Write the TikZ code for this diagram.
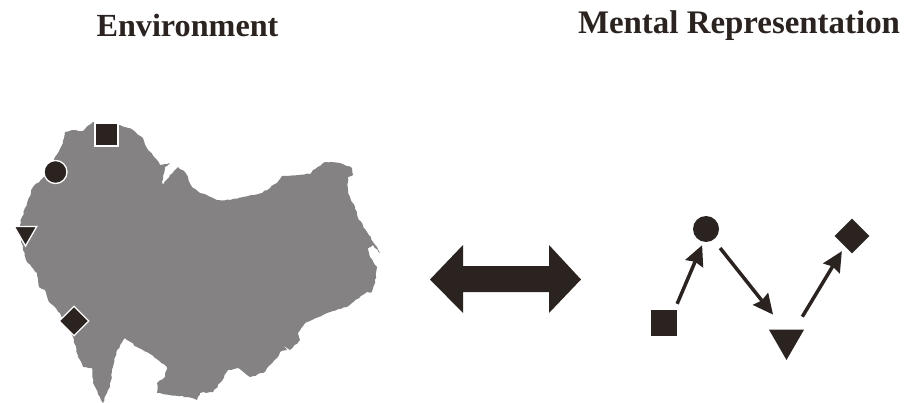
\documentclass[tikz,border=0pt]{standalone}
\usepackage{fontspec}
\setmainfont{Liberation Serif}
\usetikzlibrary{arrows.meta,shapes.geometric,decorations.pathmorphing}
\definecolor{ink}{HTML}{2A2320}
\definecolor{land}{HTML}{848283}
\tikzset{
  titletext/.style={font=\bfseries\fontsize{#1}{36}\selectfont,text=ink,inner sep=0pt,anchor=base},
  sqmark/.style={rectangle,fill=ink,inner sep=0pt,minimum size=#1},
  cimark/.style={circle,fill=ink,inner sep=0pt,minimum size=#1},
  dimark/.style={diamond,fill=ink,inner sep=0pt,minimum width=#1,minimum height=#1},
  trmark/.style={regular polygon,regular polygon sides=3,shape border rotate=180,fill=ink,inner sep=0pt,minimum size=#1},
  halo/.style={draw=white,line width=1.3pt},
  link/.style={draw=ink,line width=3.5pt,-{Stealth[length=20pt,width=19pt,inset=2pt]}}
}
\pgfmathsetseed{7}
\begin{document}
\begin{tikzpicture}[x=1pt,y=-1pt]
\useasboundingbox (0,0) rectangle (904,403);
\node[titletext=32.2] (envtitle) at (187.5,36.5) {Environment};
\node[titletext=32.9] (menttitle) at (739,33.5) {Mental Representation};
\fill[land,decorate,decoration={random steps,segment length=3pt,amplitude=0.7pt}] (93,122) -- (82,131) -- (72,130) -- (65,132) -- (63,143) -- (55,157) -- (43,178) -- (33,187) -- (28,200) -- (22,217) -- (20,225) -- (21,240) -- (23,250) -- (26,260) -- (37,273) -- (39,287) -- (45,290) -- (50,303) -- (60,313) -- (73,337) -- (78,357) -- (83,367) -- (92,368) -- (93,383) -- (100,397) -- (103,403) -- (107,393) -- (110,387) -- (113,367) -- (117,350) -- (125,338) -- (137,347) -- (147,352) -- (167,367) -- (165,377) -- (157,383) -- (157,393) -- (170,395) -- (187,397) -- (197,400) -- (200,393) -- (213,392) -- (220,383) -- (228,370) -- (238,368) -- (250,377) -- (263,373) -- (277,358) -- (280,352) -- (287,350) -- (283,345) -- (290,350) -- (300,340) -- (298,333) -- (307,322) -- (327,313) -- (347,307) -- (367,292) -- (372,292) -- (375,283) -- (377,267) -- (370,257) -- (368,248) -- (373,245) -- (380,253) -- (377,247) -- (367,232) -- (358,218) -- (355,207) -- (348,193) -- (348,177) -- (353,175) -- (352,168) -- (340,163) -- (325,162) -- (313,170) -- (310,174) -- (282,176) -- (277,183) -- (262,193) -- (243,197) -- (230,200) -- (217,200) -- (207,195) -- (200,193) -- (193,188) -- (185,172) -- (178,167) -- (170,175) -- (163,185) -- (162,182) -- (165,167) -- (170,163) -- (160,165) -- (157,160) -- (148,150) -- (143,138) -- (133,130) -- (120,125) -- cycle;
\node[sqmark=23pt,halo] (sqa) at (106.5,134.5) {};
\node[cimark=23pt,halo] (cia) at (55.5,172) {};
\node[trmark=26pt,halo] (tra) at (25.5,233) {};
\node[dimark=30pt,halo] (dia) at (74,321) {};
\fill[ink] (430,279.5) -- (463,245) -- (463,266) -- (549,266) -- (549,245) -- (581,279.5) -- (549,313) -- (549,292) -- (463,292) -- (463,313) -- cycle;
\node[sqmark=26pt] (sqb) at (663.5,323) {};
\node[cimark=26pt] (cib) at (706,229) {};
\node[dimark=35pt] (dib) at (852,236) {};
\node[trmark=40.4pt] (trb) at (786.5,339.8) {};
\draw[link,shorten <=6.5pt,shorten >=3.5pt] (sqb.50) -- (cib.259);
\draw[link,shorten <=10.5pt,shorten >=19pt] (cib.305) -- (trb.99);
\draw[link,shorten <=15pt,shorten >=5.5pt] (trb.52) -- (dib.235);
\end{tikzpicture}
\end{document}
